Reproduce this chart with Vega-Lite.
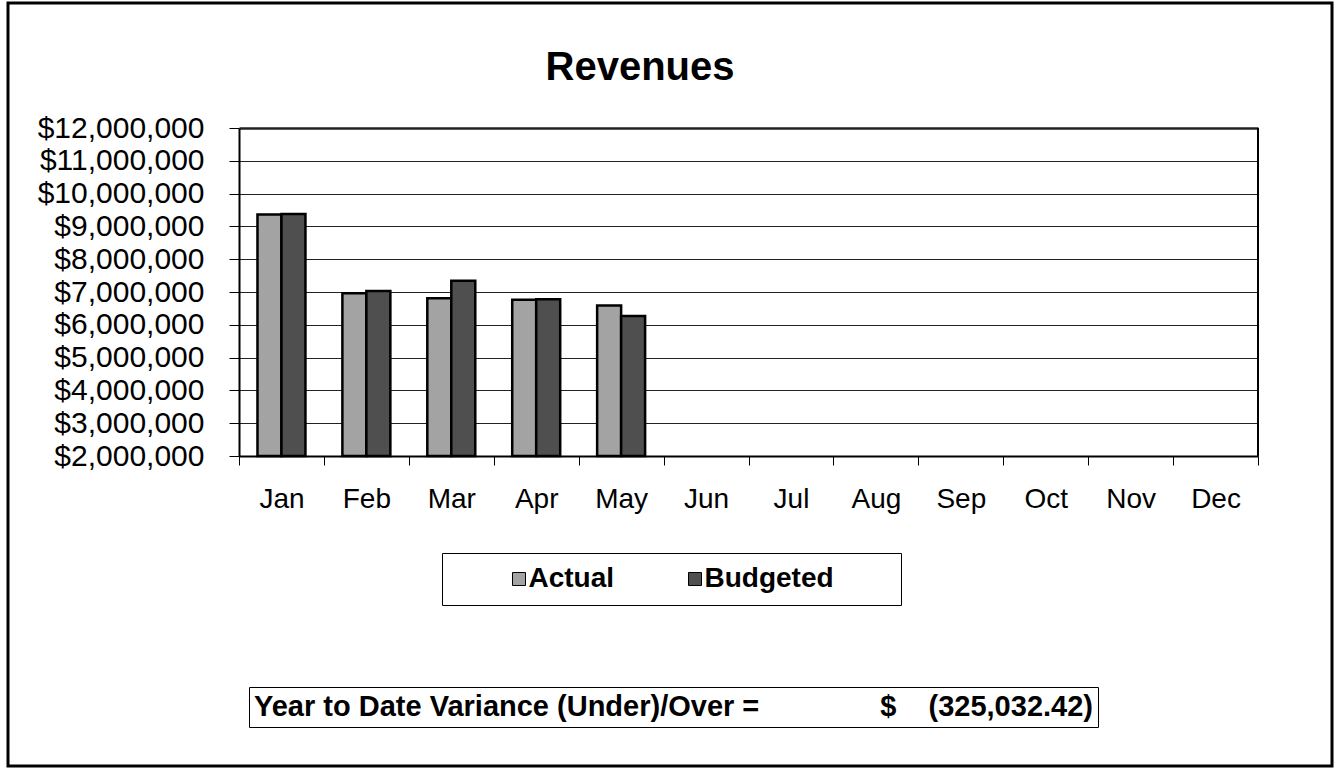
{
  "$schema": "https://vega.github.io/schema/vega-lite/v6.json",
  "width": 1324,
  "height": 763,
  "autosize": {"type": "none"},
  "padding": {"left": 8, "top": 3, "right": 3, "bottom": 3},
  "background": "white",
  "title": {"text": "Revenues", "fontSize": 40, "fontWeight": "bold", "font": "Liberation Sans", "color": "black", "anchor": "middle", "frame": "group", "dx": -30, "dy": 121, "baseline": "alphabetic"},
  "config": {
    "font": "Liberation Sans",
    "view": {"stroke": "black", "strokeWidth": 3},
    "axis": {"labelFont": "Liberation Sans", "labelColor": "black", "domainColor": "black", "tickColor": "black"},
    "legend": {"labelFont": "Liberation Sans", "labelColor": "black", "titleFont": "Liberation Sans"}
  },
  "datasets": {
    "revenue": [
      {"month": "Jan", "series": "Actual", "value": 9365000},
      {"month": "Jan", "series": "Budgeted", "value": 9375000},
      {"month": "Feb", "series": "Actual", "value": 6960000},
      {"month": "Feb", "series": "Budgeted", "value": 7030000},
      {"month": "Mar", "series": "Actual", "value": 6810000},
      {"month": "Mar", "series": "Budgeted", "value": 7340000},
      {"month": "Apr", "series": "Actual", "value": 6760000},
      {"month": "Apr", "series": "Budgeted", "value": 6780000},
      {"month": "May", "series": "Actual", "value": 6590000},
      {"month": "May", "series": "Budgeted", "value": 6270000}
    ],
    "variance": [
      {"note": "Year to Date Variance (Under)/Over =\u00a0\u00a0\u00a0\u00a0\u00a0\u00a0\u00a0\u00a0\u00a0\u00a0\u00a0\u00a0\u00a0\u00a0\u00a0$\u00a0\u00a0\u00a0\u00a0(325,032.42)"}
    ],
    "border": [{}]
  },
  "layer": [
    {
      "data": {"name": "revenue"},
      "mark": {"type": "bar", "stroke": "black", "strokeWidth": 2.5},
      "encoding": {
        "x": {
          "field": "month", "type": "nominal", "sort": null,
          "scale": {"domain": ["Jan", "Feb", "Mar", "Apr", "May", "Jun", "Jul", "Aug", "Sep", "Oct", "Nov", "Dec"], "range": [231, 1250], "paddingInner": 0, "paddingOuter": 0},
          "axis": {"title": null, "orient": "bottom", "offset": -310, "tickBand": "extent", "labelAngle": 0, "labelFontSize": 28, "labelPadding": 20, "tickSize": 9, "tickWidth": 1, "domainWidth": 2, "grid": false}
        },
        "xOffset": {"field": "series", "type": "nominal", "scale": {"domain": ["Actual", "Budgeted"], "paddingOuter": 0.77, "paddingInner": 0}},
        "y": {
          "field": "value", "type": "quantitative",
          "scale": {"domain": [2000000, 12000000], "range": [453, 125], "zero": false, "nice": false},
          "axis": {"title": null, "offset": -231, "values": [2000000, 3000000, 4000000, 5000000, 6000000, 7000000, 8000000, 9000000, 10000000, 11000000, 12000000], "format": "$,.0f", "labelFontSize": 30, "labelPadding": 25, "tickSize": 10, "domainWidth": 2, "grid": true, "gridColor": "#222222", "gridWidth": {"condition": {"test": "datum.value >= 12000000", "value": 2.5}, "value": 1}, "labelOverlap": false}
        },
        "y2": {"datum": 2000000},
        "fill": {
          "field": "series", "type": "nominal",
          "scale": {"domain": ["Actual", "Budgeted"], "range": ["#a3a3a3", "#4f4f4f"]},
          "legend": {"orient": "none", "legendX": 434, "legendY": 550, "direction": "horizontal", "title": "\u200b\u00a0\u00a0\u00a0\u00a0\u00a0\u00a0\u200b", "titleOrient": "left", "titleFontSize": 28, "titleFontWeight": "bold", "titlePadding": 4, "strokeColor": "black", "padding": 12, "labelFontSize": 28, "labelFontWeight": "bold", "labelLimit": 600, "symbolType": "square", "symbolSize": 169, "symbolStrokeColor": "black", "symbolStrokeWidth": 1, "columnPadding": 66, "labelOffset": -4.5, "labelExpr": "datum.label == 'Budgeted' ? datum.label + '\u00a0\u00a0\u00a0\u00a0\u00a0\u00a0\u00a0\u200b' : datum.label"}
        }
      }
    },
    {
      "data": {"name": "border"},
      "mark": {"type": "rule", "color": "black", "strokeWidth": 2},
      "encoding": {
        "x": {"datum": "Dec", "bandPosition": 1},
        "y": {"datum": 2000000},
        "y2": {"datum": 12000000}
      }
    },
    {
      "data": {"name": "variance"},
      "mark": {"type": "point", "opacity": 0},
      "encoding": {
        "shape": {"field": "note", "type": "nominal", "legend": {"orient": "none", "legendX": 241, "legendY": 684, "title": null, "strokeColor": "black", "padding": 5, "labelFontSize": 29, "labelFontWeight": "bold", "labelLimit": 2000, "symbolType": "square", "symbolSize": 1, "symbolOpacity": 0, "symbolStrokeWidth": 0, "symbolOffset": 0, "labelOffset": -29}}
      }
    }
  ]
}
